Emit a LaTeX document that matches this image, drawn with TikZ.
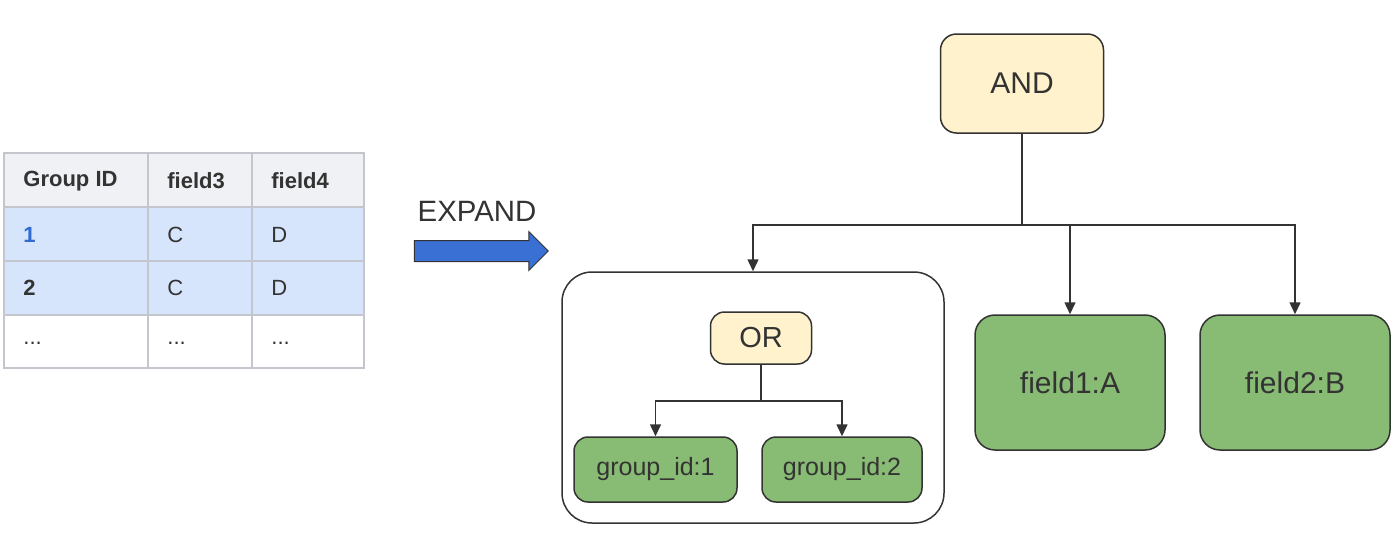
\documentclass[tikz,border=0pt]{standalone}
\usepackage{fontspec}
\setmainfont{Liberation Sans}
\usepackage{tikz}
\usetikzlibrary{arrows.meta,shapes.arrows}
\definecolor{txt}{HTML}{333333}
\definecolor{andfill}{HTML}{FFF2CC}
\definecolor{leaf}{HTML}{88BB73}
\definecolor{hdr}{HTML}{EFF1F4}
\definecolor{rowblue}{HTML}{D6E5FB}
\definecolor{gridc}{HTML}{C3C7CD}
\definecolor{numblue}{HTML}{2F6BD1}
\definecolor{arrblue}{HTML}{3A6FD3}

\begin{document}
\begin{tikzpicture}[x={(0.5pt,0)},y={(0,-0.5pt)},
	line width=0.75pt, draw=txt, >={Triangle[length=6pt,width=5.5pt]},
	cell/.style={anchor=west, text=txt, font=\fontsize{11}{13}\selectfont},
	opbox/.style={draw=txt, fill=andfill, rounded corners=7pt, text=txt, inner sep=0pt},
	leafbox/.style={draw=txt, fill=leaf, rounded corners=7pt, text=txt, inner sep=0pt}]
	%\draw[help lines] (0,0) grid[step=100] (1400,547);
	\useasboundingbox (0,0) rectangle (1400,547);
	% table
	\fill[hdr] (4,153) rectangle (364,207);
	\fill[rowblue] (4,207) rectangle (364,315);
	\draw[gridc, line width=0.6pt] (4,153) rectangle (364,368);
	\draw[gridc, line width=0.6pt] (4,207)--(364,207);
	\draw[gridc, line width=0.6pt] (4,261)--(364,261);
	\draw[gridc, line width=0.6pt] (4,315)--(364,315);
	\draw[gridc, line width=0.6pt] (148,153)--(148,368);
	\draw[gridc, line width=0.6pt] (252,153)--(252,368);
	\node[cell, font=\fontsize{11}{13}\selectfont\bfseries] (hgid) at (16,181) {Group ID};
	\node[cell, font=\fontsize{11}{13}\selectfont\bfseries] (hf3) at (160,181) {field3};
	\node[cell, font=\fontsize{11}{13}\selectfont\bfseries] (hf4) at (264,181) {field4};
	\node[cell, text=numblue, font=\fontsize{11}{13}\selectfont\bfseries] (r1a) at (16,235) {1};
	\node[cell] (r1b) at (160,235) {C};
	\node[cell] (r1c) at (264,235) {D};
	\node[cell, font=\fontsize{11}{13}\selectfont\bfseries] (r2a) at (16,288) {2};
	\node[cell] (r2b) at (160,288) {C};
	\node[cell] (r2c) at (264,288) {D};
	\node[cell] (r3a) at (16,343) {...};
	\node[cell] (r3b) at (160,343) {...};
	\node[cell] (r3c) at (264,343) {...};
	% expand arrow
	\node[text=txt, font=\fontsize{14.7}{17}\selectfont] (expand) at (477,211) {EXPAND};
	\node[single arrow, draw=txt, line width=0.5pt, fill=arrblue, inner sep=5pt,
		minimum height=67pt, minimum width=19pt, single arrow head extend=4.5pt] (bigarrow) at (476,251) {};
	% tree
	\node[opbox, rounded corners=8pt, minimum width=81.5pt, minimum height=49.5pt,
		font=\fontsize{15}{18}\selectfont] (and) at (1022,83.5) {AND};
	\node[draw=txt, rounded corners=15pt, minimum width=191pt, minimum height=125.5pt] (grp) at (753,397.5) {};
	\node[opbox, minimum width=50.5pt, minimum height=26pt,
		font=\fontsize{14.5}{17}\selectfont] (or) at (761,338) {OR};
	\node[leafbox, minimum width=81.5pt, minimum height=32.5pt,
		font=\fontsize{12.5}{15}\selectfont] (gid1) at (655.5,469.5) {group\_id:1};
	\node[leafbox, minimum width=80pt, minimum height=32.5pt,
		font=\fontsize{12.5}{15}\selectfont] (gid2) at (842,469.5) {group\_id:2};
	\node[leafbox, rounded corners=10pt, minimum width=95pt, minimum height=67.5pt,
		font=\fontsize{15}{18}\selectfont] (f1) at (1070,382.5) {field1:A};
	\node[leafbox, rounded corners=10pt, minimum width=95pt, minimum height=67.5pt,
		font=\fontsize{15}{18}\selectfont] (f2) at (1295,382.5) {field2:B};
	\coordinate (andsplit) at (1022,225);
	\coordinate (orsplit) at (761,401);
	\draw (and) -- (andsplit);
	\draw [->] (andsplit) -| (grp);
	\draw [->] (andsplit) -| (f1);
	\draw [->] (andsplit) -| (f2);
	\draw (or) -- (orsplit);
	\draw [->] (orsplit) -| (gid1);
	\draw [->] (orsplit) -| (gid2);
\end{tikzpicture}
\end{document}
